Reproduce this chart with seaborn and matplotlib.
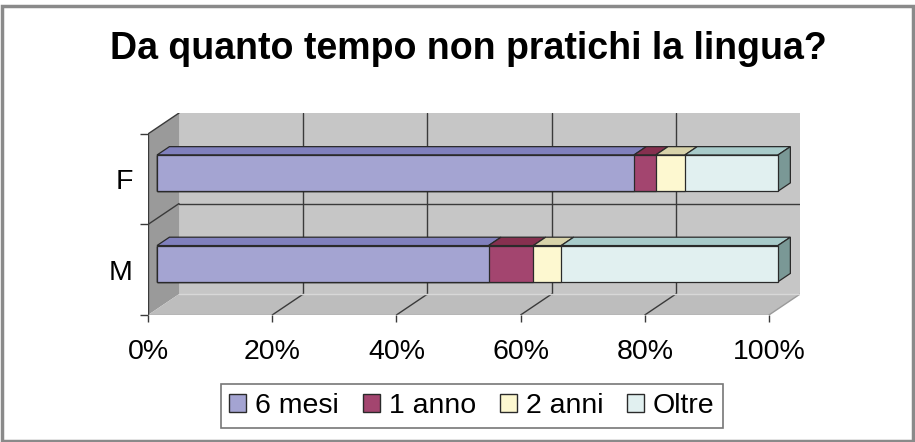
# Excel-like 3D 100% stacked bar chart, recreated with seaborn + matplotlib patches
import pandas as pd
import matplotlib
matplotlib.use("Agg")
import matplotlib.pyplot as plt
from matplotlib.patches import Polygon, Rectangle
import seaborn as sns

categories = ["F", "M"]
series = ["6 mesi", "1 anno", "2 anni", "Oltre"]
f_share = [76.8, 3.5, 4.7, 15.0]
m_share = [53.4, 7.2, 4.5, 34.9]
x_ticks = [0, 20, 40, 60, 80, 100]
x_labels = ["0%", "20%", "40%", "60%", "80%", "100%"]
title = "Da quanto tempo non pratichi la lingua?"

face_colors = ["#a4a4d2", "#a3456f", "#fdf8d0", "#e1f0f0"]
top_colors = ["#8080bd", "#86304f", "#d8d3aa", "#a8cbca"]
side_color = "#7a9896"
edge = "#2a2a2a"

# perspective offset of the back wall (x in %, y in category units)
DX, DY = 5.0, -0.231
BAR_FRONT, BAR_BACK = 0.29, 0.69
BAR_H = 0.4

sns.set_theme(style="white")
plt.rcParams["font.family"] = ["Liberation Sans", "DejaVu Sans"]
plt.rcParams["text.color"] = "black"
plt.rcParams["xtick.labelcolor"] = "black"
plt.rcParams["ytick.labelcolor"] = "black"

df = pd.DataFrame([f_share, m_share], index=categories, columns=series)
cum = df.cumsum(axis=1)
left = cum - df

fig = plt.figure(figsize=(9.15, 4.42), dpi=100)
ax = fig.add_axes([148 / 915, 1 - 315 / 442, 652 / 915, 202 / 442])

# front faces: draw cumulative bars from the longest to the shortest
for i in reversed(range(len(series))):
    s = series[i]
    d = pd.DataFrame({"cat": categories, "val": cum[s].values})
    sns.barplot(data=d, x="val", y="cat", orient="h", color=face_colors[i],
                saturation=1, width=BAR_H, errorbar=None, ax=ax,
                edgecolor=edge, linewidth=0.9, zorder=3)

# push the front faces back to the bar's depth
for p in ax.patches:
    p.set_x(p.get_x() + BAR_FRONT * DX)
    p.set_y(p.get_y() + BAR_FRONT * DY)

ax.set_xlim(0, 100 + DX)
ax.set_ylim(1.5, -0.5 + DY)
for sp in ax.spines.values():
    sp.set_visible(False)

# walls and floor
wall_kw = dict(closed=True, zorder=0, linewidth=0)
ax.add_patch(Polygon([(DX, -0.5 + DY), (100 + DX, -0.5 + DY), (100 + DX, 1.5 + DY), (DX, 1.5 + DY)],
                     facecolor="#c6c6c6", **wall_kw))
ax.add_patch(Polygon([(0, -0.5), (DX, -0.5 + DY), (DX, 1.5 + DY), (0, 1.5)],
                     facecolor="#9a9a9a", **wall_kw))
ax.add_patch(Polygon([(0, 1.5), (100, 1.5), (100 + DX, 1.5 + DY), (DX, 1.5 + DY)],
                     facecolor="#bdbdbd", **wall_kw))

grid_kw = dict(color="#3a3a3a", linewidth=1.0, zorder=1)
for t in x_ticks[1:-1]:
    ax.plot([t + DX, t + DX], [-0.5 + DY, 1.5 + DY], **grid_kw)
for t in x_ticks[1:-1]:
    ax.plot([t, t + DX], [1.5, 1.5 + DY], **grid_kw)
ax.plot([DX, 100 + DX], [0.5 + DY, 0.5 + DY], **grid_kw)
ax.plot([0, DX], [0.5, 0.5 + DY], **grid_kw)
ax.plot([0, DX], [-0.5, -0.5 + DY], **grid_kw)
ax.plot([0, 0], [-0.5, 1.5], color="#3a3a3a", linewidth=1.0, zorder=1)
ax.plot([100, 100 + DX], [1.5, 1.5 + DY], color="#9a9a9a", linewidth=1.0, zorder=1)
ax.plot([DX, 100 + DX], [1.5 + DY, 1.5 + DY], color="#d8d8d8", linewidth=1.0, zorder=1)
ax.plot([0, 100], [1.5, 1.5], color="#9a9a9a", linewidth=1.0, zorder=1)

# top and side faces of each segment
bx0, by0 = BAR_FRONT * DX, BAR_FRONT * DY
bdx, bdy = (BAR_BACK - BAR_FRONT) * DX, (BAR_BACK - BAR_FRONT) * DY
for j, c in enumerate(categories):
    ytop = j - BAR_H / 2 + by0
    ybot = j + BAR_H / 2 + by0
    for i, s in enumerate(series):
        l = left.loc[c, s] + bx0
        r = cum.loc[c, s] + bx0
        ax.add_patch(Polygon([(l, ytop), (r, ytop), (r + bdx, ytop + bdy), (l + bdx, ytop + bdy)],
                             closed=True, facecolor=top_colors[i], edgecolor=edge,
                             linewidth=0.9, zorder=2))
    r = cum.loc[c, series[-1]] + bx0
    ax.add_patch(Polygon([(r, ytop), (r + bdx, ytop + bdy), (r + bdx, ybot + bdy), (r, ybot)],
                         closed=True, facecolor=side_color, edgecolor=edge,
                         linewidth=0.9, zorder=2))

ax.set_xticks(x_ticks, x_labels)
ax.set_yticks(range(len(categories)), categories)
ax.set_yticks([-0.5, 0.5, 1.5], minor=True)
ax.set_xlabel("")
ax.set_ylabel("")
ax.tick_params(axis="x", length=5, width=1, color="#3a3a3a", pad=12, labelsize=20.5, bottom=True)
ax.tick_params(axis="y", which="major", length=0, pad=11, labelsize=20.5)
ax.tick_params(axis="y", which="minor", length=6, width=1, color="#3a3a3a", left=True)

fig.text(468 / 915, 1 - 49 / 442, title, ha="center", va="center",
         fontsize=27, fontweight="bold", color="black")

handles = [Rectangle((0, 0), 1, 1, facecolor=face_colors[i], edgecolor=edge, linewidth=1)
           for i in range(len(series))]
leg = fig.legend(handles, series, loc="center", bbox_to_anchor=(472 / 915, 1 - 406 / 442),
                 ncol=4, fontsize=20.5, frameon=True, fancybox=False,
                 handlelength=0.6, handleheight=0.6, handletextpad=0.3,
                 columnspacing=0.85, borderpad=0.3, borderaxespad=0)
leg.get_frame().set_edgecolor("#555555")
leg.get_frame().set_linewidth(1.2)
for t in leg.get_texts():
    t.set_color("black")

fig.patches.append(Rectangle((0.002, 0.002), 0.996, 0.985, transform=fig.transFigure,
                             fill=False, edgecolor="#8a8a8a", linewidth=2.5))

fig.savefig("out.png", dpi=100)
